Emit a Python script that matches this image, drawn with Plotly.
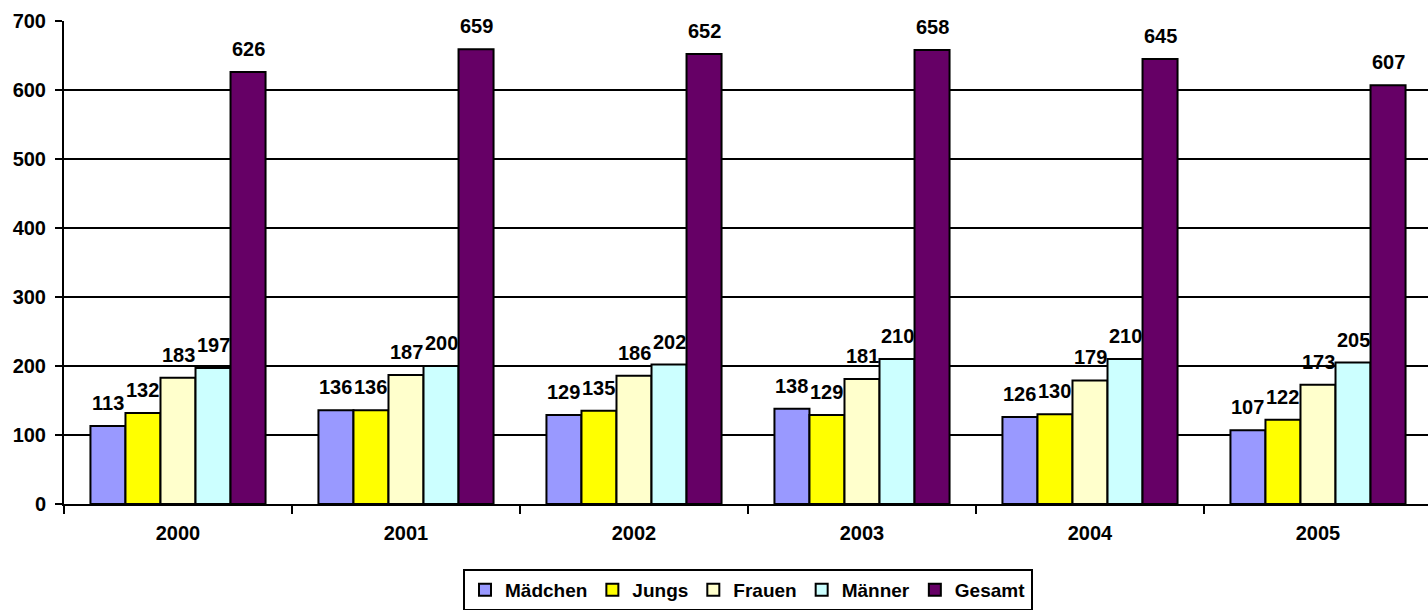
import plotly.graph_objects as go

years = ["2000", "2001", "2002", "2003", "2004", "2005"]
series_names = ["Mädchen", "Jungs", "Frauen", "Männer", "Gesamt"]
maedchen = [113, 136, 129, 138, 126, 107]
jungs = [132, 136, 135, 129, 130, 122]
frauen = [183, 187, 186, 181, 179, 173]
maenner = [197, 200, 202, 210, 210, 205]
gesamt = [626, 659, 652, 658, 645, 607]
colors = ["#9999FF", "#FFFF00", "#FFFFCC", "#CCFFFF", "#660066"]

all_values = [maedchen, jungs, frauen, maenner, gesamt]
FONT = "Arial, 'Liberation Sans', sans-serif"
bargap = 0.232
n = len(series_names)
w = (1 - bargap) / n

fig = go.Figure()
for name, vals, col in zip(series_names, all_values, colors):
    fig.add_trace(go.Bar(
        x=years, y=vals, name=name,
        marker=dict(color=col, line=dict(color="black", width=2)),
    ))

annotations = []
for i, vals in enumerate(all_values):
    for j, v in enumerate(vals):
        annotations.append(dict(
            x=j + (i - (n - 1) / 2) * w, y=v, xref="x", yref="y",
            text=str(v), showarrow=False, yanchor="bottom", yshift=10,
            font=dict(family=FONT, size=20, color="black", weight="bold"),
        ))

fig.update_layout(
    width=1428, height=610,
    margin=dict(l=64, r=0, t=21, b=106),
    paper_bgcolor="white", plot_bgcolor="white",
    barmode="group", bargap=bargap, bargroupgap=0,
    font=dict(family=FONT, size=20, color="black", weight="bold"),
    annotations=annotations,
    showlegend=True,
    legend=dict(
        orientation="h", xref="container", yref="container",
        x=748 / 1428, xanchor="center", y=1 - 590 / 610, yanchor="middle",
        bordercolor="black", borderwidth=2, bgcolor="white",
        font=dict(family=FONT, size=19, color="black", weight="bold"),
        itemwidth=30, traceorder="normal", tracegroupgap=0,
    ),
    xaxis=dict(
        type="category", range=[-0.5, -0.5 + 1364 / 228],
        showline=True, linecolor="black", linewidth=2,
        ticks="outside", tickson="boundaries", ticklen=8, tickwidth=2, tickcolor="black",
        tickfont=dict(family=FONT, size=20, color="black", weight="bold"),
        ticklabelstandoff=10,
        showgrid=False,
    ),
    yaxis=dict(
        range=[0, 700], dtick=100,
        showline=True, linecolor="black", linewidth=2,
        ticks="outside", ticklen=7, tickwidth=2, tickcolor="black",
        tickfont=dict(family=FONT, size=20, color="black", weight="bold"),
        ticklabelstandoff=5,
        showgrid=True, gridcolor="black", gridwidth=2, zeroline=False,
    ),
)

fig.write_html("out.html")
